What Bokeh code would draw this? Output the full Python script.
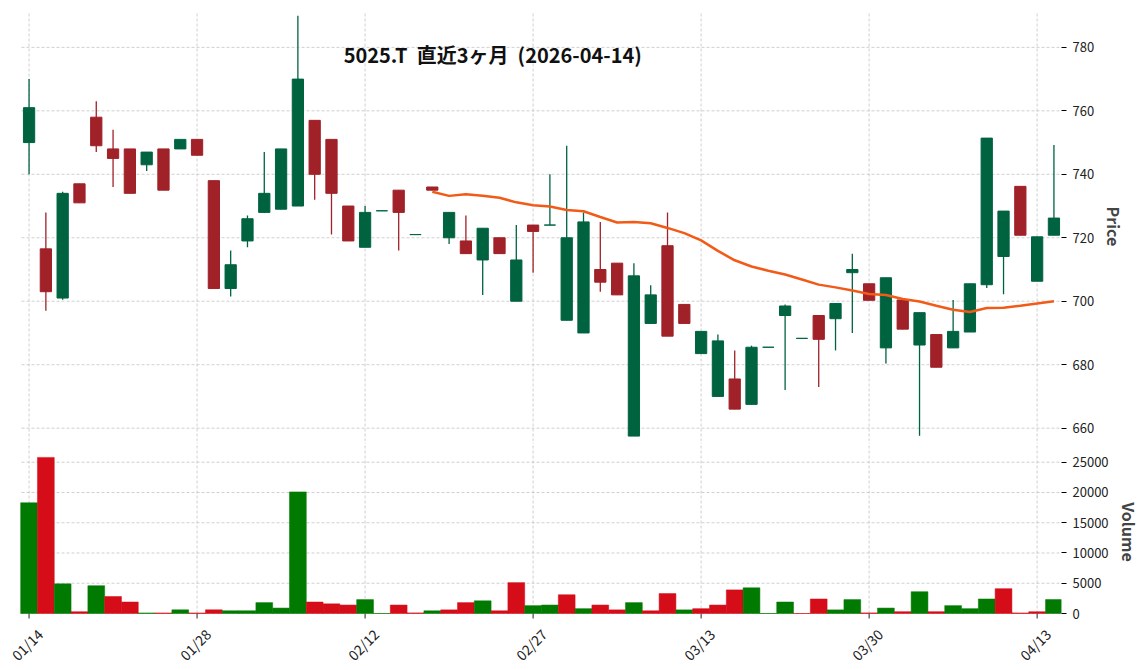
import numpy as np
import pandas as pd
from bokeh.plotting import figure
from bokeh.layouts import column
from bokeh.models import ColumnDataSource, FixedTicker, Label, Range1d
from bokeh.core.properties import value
from bokeh.embed import file_html
from bokeh.resources import INLINE

NB = "\u00a0"
TITLE = "5025.T" + NB * 2 + "直近3ヶ月" + NB * 2 + "(2026-04-14)"
FONT = "Noto Sans CJK JP"

dates = [
    "2026-01-14", "2026-01-15", "2026-01-16", "2026-01-19", "2026-01-20", "2026-01-21",
    "2026-01-22", "2026-01-23", "2026-01-26", "2026-01-27", "2026-01-28", "2026-01-29",
    "2026-01-30", "2026-02-02", "2026-02-03", "2026-02-04", "2026-02-05", "2026-02-06",
    "2026-02-09", "2026-02-10", "2026-02-12", "2026-02-13", "2026-02-16", "2026-02-17",
    "2026-02-18", "2026-02-19", "2026-02-20", "2026-02-24", "2026-02-25", "2026-02-26",
    "2026-02-27", "2026-03-02", "2026-03-03", "2026-03-04", "2026-03-05", "2026-03-06",
    "2026-03-09", "2026-03-10", "2026-03-11", "2026-03-12", "2026-03-13", "2026-03-16",
    "2026-03-17", "2026-03-18", "2026-03-19", "2026-03-23", "2026-03-24", "2026-03-25",
    "2026-03-26", "2026-03-27", "2026-03-30", "2026-03-31", "2026-04-01", "2026-04-02",
    "2026-04-03", "2026-04-06", "2026-04-07", "2026-04-08", "2026-04-09", "2026-04-10",
    "2026-04-13", "2026-04-14",
]

opens = [750, 716.5, 701, 737, 758, 748, 748, 743, 748, 748, 751, 738, 704, 719, 728, 729,
         730, 757, 751, 730, 717, 728.5, 735, 721, 736, 720, 719, 713, 720, 700, 724, 724,
         694, 690, 710, 712, 657.5, 693, 717.5, 699, 683.5, 670, 675.5, 667.5, 685.5, 695.5,
         688.3, 695.5, 694.5, 709, 705.5, 685.3, 700.4, 686.2, 689.5, 685.3, 690.3, 705.2,
         714.1, 736.2, 706.3, 720.8]
highs = [770, 728, 734.5, 737, 763, 754, 748, 747, 748, 751, 751, 738, 716, 727, 747, 748,
         790, 757, 751, 730, 730, 728.5, 735, 721, 736, 728, 727, 723, 720, 724, 724, 740,
         749, 728, 725, 712, 712, 705, 728, 699, 690.5, 689.5, 684.5, 686, 685.5, 699,
         688.3, 695.5, 699.3, 715, 705.5, 707.4, 700.4, 696.4, 689.5, 700.4, 705.5, 751.4,
         728.4, 736.2, 720.3, 749.2]
lows = [740, 697, 700.5, 731, 747, 736, 734, 741, 735, 748, 746, 704, 701.5, 717, 728, 729,
        730, 732, 721, 719, 717, 728.5, 716, 721, 735, 718, 715, 702, 715, 700, 709, 724,
        694, 690, 703, 702, 657.5, 693, 689, 693, 683.5, 670, 666, 667.5, 685.5, 672,
        688.3, 673, 684.5, 690, 700.3, 680.4, 691.2, 657.6, 679.2, 685.3, 690.3, 704.2,
        702.2, 720.8, 706.3, 720.8]
closes = [761, 703, 734, 731, 749, 745, 734, 747, 735, 751, 746, 704, 711.5, 726, 734, 748,
          770, 740, 734, 719, 728, 728.5, 728, 721, 735, 728, 715, 723, 715, 713, 722, 724,
          720, 725, 706, 702, 708, 702, 689, 693, 690.5, 687.5, 666, 685.5, 685.5, 698.5,
          688.3, 688, 699.3, 710, 700.3, 707.4, 691.2, 696.4, 679.2, 690.5, 705.5, 751.4,
          728.4, 720.8, 720.3, 726.2]
volumes = [18300, 25800, 4900, 300, 4600, 2800, 1900, 100, 100, 600, 100, 600, 450, 450,
           1800, 900, 20100, 1900, 1600, 1400, 2300, 0, 1400, 100, 450, 600, 1800, 2100,
           450, 5100, 1300, 1400, 3100, 800, 1400, 600, 1800, 450, 3300, 600, 800, 1400,
           3900, 4250, 0, 1900, 0, 2400, 600, 2300, 100, 900, 300, 3600, 300, 1300, 800,
           2400, 4100, 100, 300, 2300]

price_ticks = [660, 680, 700, 720, 740, 760, 780]
volume_ticks = [0, 5000, 10000, 15000, 20000, 25000]
tick_every = 10

UP_C, DOWN_C = "#006340", "#a02128"
VUP_C, VDOWN_C = "#007a00", "#d50d18"
MA_C = "#f25a18"
GRID_C = "#c4c4c4"

df = pd.DataFrame({"date": pd.to_datetime(dates), "open": opens, "high": highs,
                   "low": lows, "close": closes, "volume": volumes})
df["x"] = np.arange(len(df))
df["top"] = df[["open", "close"]].max(axis=1)
df["bottom"] = df[["open", "close"]].min(axis=1)
df["color"] = np.where(df["close"] >= df["open"], UP_C, DOWN_C)
chg = df["close"].diff().fillna(1)
df["vcolor"] = np.where(chg >= 0, VUP_C, VDOWN_C)
df["ma"] = df["close"].rolling(25).mean()
src = ColumnDataSource(df)

xticks = list(range(0, len(df), tick_every))
tick_src = ColumnDataSource(dict(x=xticks,
                                 text=[df["date"].iloc[i].strftime("%m/%d") for i in xticks]))

# axes box: data x0..x1 spans 1040px; a 21px white margin on its left is kept
# inside the frame so rotated date labels are not clipped
BOX_W = 1040
LEFT = 21
x0, x1 = -0.45, len(df) - 0.55
upp = (x1 - x0) / BOX_W
x_range = Range1d(x0 - LEFT * upp, x1)
FRAME_W = BOX_W + LEFT

def hgrid(p, ticks):
    s = ColumnDataSource(dict(y=ticks))
    p.segment(x0=x0, y0="y", x1=x1, y1="y", source=s, line_color=GRID_C,
              line_dash="3 2", line_width=0.8)

def style(p):
    p.outline_line_color = None
    p.background_fill_color = "white"
    p.border_fill_color = "white"
    p.ygrid.visible = False
    p.xgrid.visible = False
    ax = p.yaxis[0]
    ax.axis_line_color = None
    ax.major_tick_in = 0
    ax.major_tick_out = 5
    ax.minor_tick_line_color = None
    ax.major_label_standoff = 6
    ax.major_label_text_font = FONT
    ax.major_label_text_font_size = "13px"
    ax.major_label_text_color = "#222222"
    ax.axis_label_text_font = FONT
    ax.axis_label_text_font_size = "16px"
    ax.axis_label_text_font_style = "bold"
    ax.axis_label_standoff = 5

# ---------------- price panel ----------------
PY0, PY1 = 655.8, 791.3
p1 = figure(frame_width=FRAME_W, frame_height=430, x_range=x_range,
            y_range=Range1d(PY0, PY1), y_axis_location="right",
            output_backend="svg", toolbar_location=None,
            min_border_left=0, min_border_top=11, min_border_bottom=0, min_border_right=10)
style(p1)
p1.yaxis.ticker = FixedTicker(ticks=price_ticks)
p1.yaxis.axis_label = "Price"
p1.xaxis.visible = False
hgrid(p1, price_ticks)
p1.segment(x0="x", y0=PY0, x1="x", y1=PY1, source=tick_src, line_color=GRID_C,
           line_dash="3 2", line_width=0.8)

p1.segment(x0="x", y0="low", x1="x", y1="high", color="color", line_width=1.3, source=src)
p1.vbar(x="x", top="top", bottom="bottom", width=0.67, fill_color="color",
        line_color="color", line_width=1, source=src)
p1.line(x="x", y="ma", color=MA_C, line_width=2.5, source=src)

p1.add_layout(Label(x=27.6, y=777.6, text=TITLE, text_align="center",
                    text_baseline="middle", text_font=FONT, text_font_size="20px",
                    text_font_style="bold", text_color="#111111"))

# ---------------- volume panel ----------------
VOL_TOP = 28260
VOL_FRAME_H = 171
PAD_PX = 8
vol_per_px = VOL_TOP / VOL_FRAME_H
p2 = figure(frame_width=FRAME_W, frame_height=VOL_FRAME_H + PAD_PX, x_range=x_range,
            y_range=Range1d(-PAD_PX * vol_per_px, VOL_TOP), y_axis_location="right",
            output_backend="svg", toolbar_location=None,
            min_border_left=0, min_border_top=1, min_border_bottom=0, min_border_right=10)
style(p2)
p2.yaxis.ticker = FixedTicker(ticks=volume_ticks)
p2.yaxis.axis_label = "Volume"
p2.xaxis.visible = False
hgrid(p2, volume_ticks)
p2.segment(x0="x", y0=0, x1="x", y1=VOL_TOP, source=tick_src, line_color=GRID_C,
           line_dash="3 2", line_width=0.8)
p2.segment(x0="x", y0=0, x1="x", y1=-5 * vol_per_px, source=tick_src,
           line_color="#222222", line_width=1)
p2.vbar(x="x", top="volume", bottom=0, width=1.0, fill_color="vcolor",
        line_color="vcolor", line_width=0.5, source=src)

# ---------------- date labels strip ----------------
p3 = figure(frame_width=FRAME_W, frame_height=48, x_range=x_range,
            y_range=Range1d(-48, 0), output_backend="svg", toolbar_location=None,
            x_axis_location=None, y_axis_location=None,
            min_border_left=0, min_border_top=0, min_border_bottom=0, min_border_right=10)
p3.outline_line_color = None
p3.xgrid.visible = False
p3.ygrid.visible = False
p3.text(x="x", y=-23, text="text", source=tick_src, angle=np.pi / 4,
        text_align="center", text_baseline="middle", x_offset=-2,
        text_font=value(FONT), text_font_size="14px", text_color="#222222")

layout = column(p1, p2, p3, spacing=0)
open("out.html", "w").write(file_html(layout, INLINE))
